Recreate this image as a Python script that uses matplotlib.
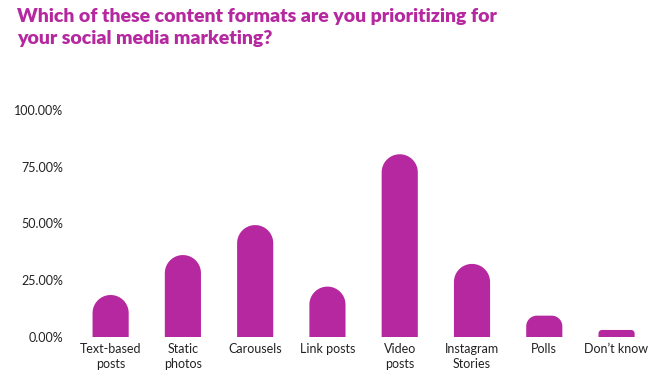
import matplotlib
matplotlib.use("Agg")
import matplotlib.pyplot as plt
from matplotlib.patches import Polygon
import numpy as np

# data
categories = ["Text-based\nposts", "Static\nphotos", "Carousels", "Link posts",
              "Video\nposts", "Instagram\nStories", "Polls", "Don\u2019t know"]
values = [18.5, 36.1, 49.3, 22.2, 80.5, 32.2, 9.4, 3.1]
yticks = [0, 25, 50, 75, 100]

BAR_COLOR = "#B5289F"
TITLE_COLOR = "#B5289F"
TEXT_COLOR = "#222222"

plt.rcParams["font.family"] = ["Lato", "DejaVu Sans"]

fig = plt.figure(figsize=(6.65, 3.85), dpi=100)
ax = fig.add_axes([0.112, 0.1247, 0.8695, 0.5896])
ax.set_xlim(-0.5, len(categories) - 0.5)
ax.set_ylim(0, 100)

# pixels per data unit, used to keep the rounded tops circular
bbox = ax.get_window_extent()
px_x = bbox.width / (len(categories))
px_y = bbox.height / 100.0

bar_w = 0.5
for i, v in enumerate(values):
    half = bar_w / 2
    w_px = bar_w * px_x
    h_px = v * px_y
    r_px = min(w_px / 2, h_px / 2)
    rx = r_px / px_x
    ry = r_px / px_y
    pts = [(i - half, 0), (i + half, 0), (i + half, v - ry)]
    # right corner
    for t in np.linspace(0, np.pi / 2, 20):
        pts.append((i + half - rx + rx * np.cos(t), v - ry + ry * np.sin(t)))
    # left corner
    for t in np.linspace(np.pi / 2, np.pi, 20):
        pts.append((i - half + rx + rx * np.cos(t), v - ry + ry * np.sin(t)))
    pts.append((i - half, 0))
    ax.add_patch(Polygon(pts, closed=True, facecolor=BAR_COLOR, edgecolor="none"))

ax.set_yticks(yticks)
ax.set_yticklabels([f"{t:.2f}%" for t in yticks])
ax.set_xticks(range(len(categories)))
ax.set_xticklabels(categories, linespacing=1.3)
ax.tick_params(axis="both", length=0, colors=TEXT_COLOR, labelsize=9)
ax.tick_params(axis="y", pad=8)
ax.tick_params(axis="x", pad=4)
for s in ax.spines.values():
    s.set_visible(False)

fig.text(0.026, 0.978, "Which of these content formats are you prioritizing for\nyour social media marketing?",
         ha="left", va="top", fontsize=14, fontweight="heavy", color=TITLE_COLOR,
         linespacing=1.3)

fig.savefig("out.png", dpi=100, facecolor="white")
